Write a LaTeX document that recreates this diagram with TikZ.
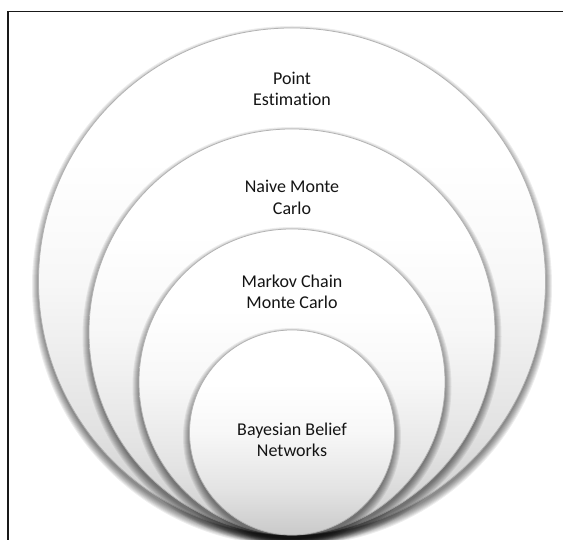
\documentclass[tikz,border=0pt]{standalone}
\usepackage{fontspec}
\setmainfont{Carlito}[Ligatures=NoCommon]
% white over the upper half, greying towards the bottom (25bp = bottom, 75bp = top)
\pgfdeclareverticalshading{discshade}{100bp}{%
  color(0bp)=(black!21); color(25bp)=(black!21); color(36bp)=(black!11);
  color(50bp)=(black!3); color(62bp)=(white); color(100bp)=(white)}
\begin{document}
\begin{tikzpicture}[x=1pt,y=1pt,
  disc/.style={circle, inner sep=0pt, draw=black!30, line width=0.75pt,
    shade, shading=discshade},
  lbl/.style={align=center, text=black!92, font=\fontsize{18}{21.5}\selectfont},
  shadowring/.style={fill=black, opacity=0.07}]
\useasboundingbox (0,0) rectangle (563,540);
\clip (0,0) rectangle (563,540);
\fill[white] (0,0) rectangle (563,540);
% frame, running past the right and bottom edges
\draw[line width=1.5pt, black!90] (8,528.5) rectangle (580,-20);

% nested discs, all touching at the bottom, each with a soft shadow below it
\foreach \name/\cy/\rad in {c1/258.5/253.5, c2/208/203, c3/158/153, c4/107.5/102.5}{
  \foreach \k in {0,...,7}
    \fill[shadowring] (292,\cy-4.5) circle[radius=\rad+6.5-\k];
  \node[disc, minimum size=2*\rad] (\name) at (292,\cy) {};
}

\node[lbl] (t1) at (292,451) {Point\\Estimation};
\node[lbl] (t2) at (292,342.5) {Naive Monte\\Carlo};
\node[lbl] (t3) at (292,248) {Markov Chain\\Monte Carlo};
\node[lbl] (t4) at (292,100) {Bayesian Belief\\Networks};
\end{tikzpicture}
\end{document}
